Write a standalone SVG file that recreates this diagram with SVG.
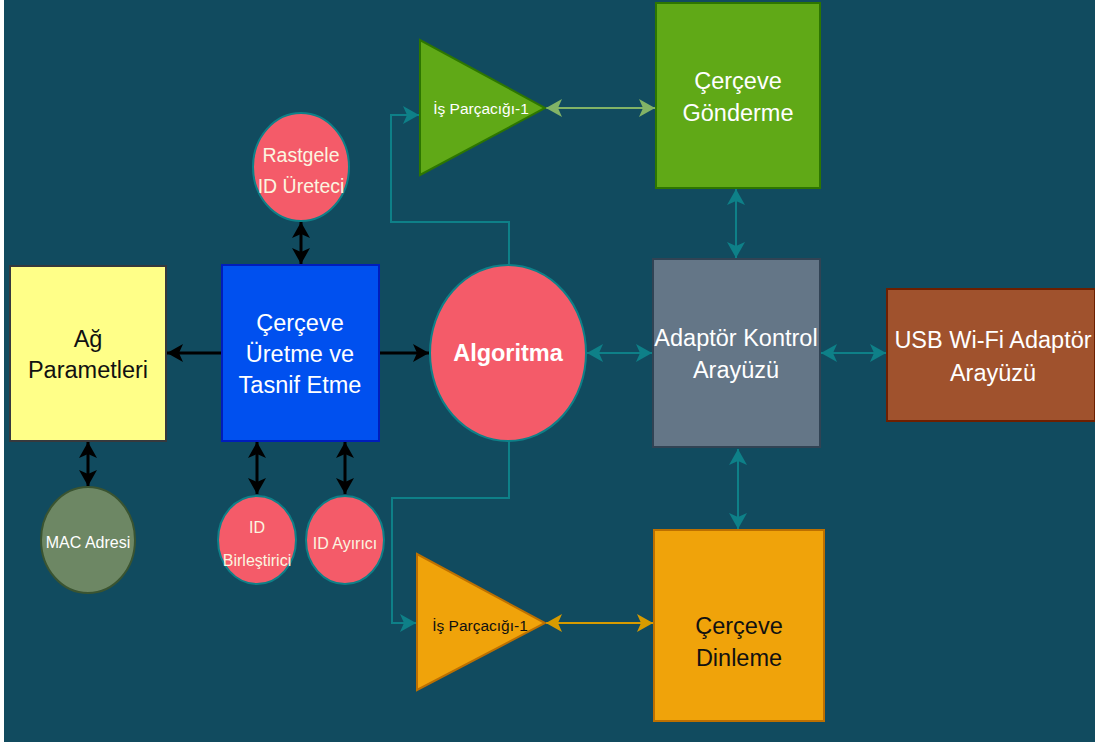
<svg xmlns="http://www.w3.org/2000/svg" width="1095" height="742" viewBox="0 0 1095 742">
  <style>
    .lbl { font-family: "Liberation Sans", Arial, sans-serif; text-anchor: middle; dominant-baseline: central; }
    .big { font-size: 23.5px; }
    .mid { font-size: 19.5px; }
    .sml { font-size: 16px; }
    .tri { font-size: 15.5px; }
    .w { fill: #ffffff; }
    .cream { fill: #fbf5e0; }
    .dark { fill: #111111; }
    .pink { fill: #f45b69; stroke: #0e8088; stroke-width: 2; }
    .c-black { stroke: #000000; stroke-width: 3; fill: none; }
    .c-teal { stroke: #0e8088; stroke-width: 2; fill: none; }
    .c-lg { stroke: #82b366; stroke-width: 2; fill: none; }
    .c-or { stroke: #d79b00; stroke-width: 2; fill: none; }
  </style>
  <defs>
    <marker id="ah-black" viewBox="0 0 16 18" refX="16" refY="9" markerWidth="16" markerHeight="18" markerUnits="userSpaceOnUse" orient="auto-start-reverse">
      <path d="M0,0 L16,9 L0,18 L4,9 z" fill="#000000"/>
    </marker>
    <marker id="ah-teal" viewBox="0 0 16 18" refX="16" refY="9" markerWidth="16" markerHeight="18" markerUnits="userSpaceOnUse" orient="auto-start-reverse">
      <path d="M0,0 L16,9 L0,18 L4,9 z" fill="#0e8088"/>
    </marker>
    <marker id="ah-lg" viewBox="0 0 16 18" refX="16" refY="9" markerWidth="16" markerHeight="18" markerUnits="userSpaceOnUse" orient="auto-start-reverse">
      <path d="M0,0 L16,9 L0,18 L4,9 z" fill="#82b366"/>
    </marker>
    <marker id="ah-or" viewBox="0 0 16 18" refX="16" refY="9" markerWidth="16" markerHeight="18" markerUnits="userSpaceOnUse" orient="auto-start-reverse">
      <path d="M0,0 L16,9 L0,18 L4,9 z" fill="#d79b00"/>
    </marker>
  </defs>

  <!-- canvas -->
  <rect x="0" y="0" width="1095" height="742" fill="#ffffff"/>
  <rect x="4" y="0" width="1091" height="742" fill="#114b5f"/>

  <!-- connectors -->
  <g id="connectors">
    <line class="c-black" x1="301" y1="222" x2="301" y2="264" marker-start="url(#ah-black)" marker-end="url(#ah-black)"/>
    <line class="c-black" x1="222" y1="353" x2="167" y2="353" marker-end="url(#ah-black)"/>
    <line class="c-black" x1="379" y1="353" x2="429" y2="353" marker-end="url(#ah-black)"/>
    <line class="c-black" x1="88" y1="442" x2="88" y2="486" marker-start="url(#ah-black)" marker-end="url(#ah-black)"/>
    <line class="c-black" x1="257" y1="442" x2="257" y2="494" marker-start="url(#ah-black)" marker-end="url(#ah-black)"/>
    <line class="c-black" x1="345" y1="442" x2="345" y2="494" marker-start="url(#ah-black)" marker-end="url(#ah-black)"/>

    <path class="c-teal" d="M509,265 V222 H391 V115 H419" marker-end="url(#ah-teal)"/>
    <path class="c-teal" d="M509,441 V498 H392 V623 H416" marker-end="url(#ah-teal)"/>

    <line class="c-lg" x1="546" y1="108" x2="655" y2="108" marker-start="url(#ah-lg)" marker-end="url(#ah-lg)"/>
    <line class="c-or" x1="546" y1="623" x2="653" y2="623" marker-start="url(#ah-or)" marker-end="url(#ah-or)"/>

    <line class="c-teal" x1="587" y1="353" x2="652" y2="353" marker-start="url(#ah-teal)" marker-end="url(#ah-teal)"/>
    <line class="c-teal" x1="821" y1="353" x2="886" y2="353" marker-start="url(#ah-teal)" marker-end="url(#ah-teal)"/>
    <line class="c-teal" x1="736" y1="189" x2="736" y2="258" marker-start="url(#ah-teal)" marker-end="url(#ah-teal)"/>
    <line class="c-teal" x1="738" y1="449" x2="738" y2="529" marker-start="url(#ah-teal)" marker-end="url(#ah-teal)"/>
  </g>

  <!-- nodes -->
  <g id="thread-send">
    <polygon points="420,40 420,175 545,108" fill="#60a917" stroke="#2d7600" stroke-width="2"/>
    <text class="lbl tri w" x="481" y="108">İş Parçacığı-1</text>
  </g>

  <g id="frame-send">
    <rect x="656" y="3" width="164" height="185" fill="#60a917" stroke="#2d7600" stroke-width="2"/>
    <text class="lbl big w" x="738" y="81">Çerçeve</text>
    <text class="lbl big w" x="738" y="113">Gönderme</text>
  </g>

  <g id="random-id">
    <ellipse class="pink" cx="301" cy="167" rx="48" ry="54"/>
    <text class="lbl mid cream" x="301" y="155">Rastgele</text>
    <text class="lbl mid cream" x="301" y="186">ID Üreteci</text>
  </g>

  <g id="net-params">
    <rect x="10" y="266" width="156" height="175" fill="#ffff88" stroke="#36393d" stroke-width="2"/>
    <text class="lbl big dark" x="88" y="339">Ağ</text>
    <text class="lbl big dark" x="88" y="370">Parametleri</text>
  </g>

  <g id="frame-gen">
    <rect x="222" y="265" width="157" height="176" fill="#0050ef" stroke="#001dbc" stroke-width="2"/>
    <text class="lbl big w" x="300" y="323">Çerçeve</text>
    <text class="lbl big w" x="300" y="354">Üretme ve</text>
    <text class="lbl big w" x="300" y="385">Tasnif Etme</text>
  </g>

  <g id="algorithm">
    <ellipse class="pink" cx="508" cy="353" rx="78" ry="88"/>
    <text class="lbl big w" x="508" y="353" font-weight="bold">Algoritma</text>
  </g>

  <g id="mac">
    <ellipse cx="88" cy="540" rx="47" ry="53" fill="#6d8764" stroke="#3a5431" stroke-width="2"/>
    <text class="lbl sml w" x="88" y="542">MAC Adresi</text>
  </g>

  <g id="id-merge">
    <ellipse class="pink" cx="257" cy="540" rx="39" ry="44"/>
    <text class="lbl sml cream" x="257" y="527">ID</text>
    <text class="lbl sml cream" x="257" y="560">Birleştirici</text>
  </g>

  <g id="id-split">
    <ellipse class="pink" cx="345" cy="540" rx="39" ry="44"/>
    <text class="lbl sml cream" x="345" y="543">ID Ayırıcı</text>
  </g>

  <g id="adapter-ctrl">
    <rect x="653" y="259" width="167" height="188" fill="#647687" stroke="#314354" stroke-width="2"/>
    <text class="lbl big w" x="736" y="338">Adaptör Kontrol</text>
    <text class="lbl big w" x="736" y="370">Arayüzü</text>
  </g>

  <g id="usb-adapter">
    <rect x="887" y="289" width="208" height="132" fill="#a0522d" stroke="#6d1f00" stroke-width="2"/>
    <text class="lbl big w" x="993" y="340">USB Wi-Fi Adaptör</text>
    <text class="lbl big w" x="993" y="373">Arayüzü</text>
  </g>

  <g id="thread-listen">
    <polygon points="417,554 417,690 545,623" fill="#f0a30a" stroke="#bd7000" stroke-width="2"/>
    <text class="lbl tri dark" x="480" y="625">İş Parçacığı-1</text>
  </g>

  <g id="frame-listen">
    <rect x="654" y="530" width="170" height="191" fill="#f0a30a" stroke="#bd7000" stroke-width="2"/>
    <text class="lbl big dark" x="739" y="626">Çerçeve</text>
    <text class="lbl big dark" x="739" y="658">Dinleme</text>
  </g>
</svg>
